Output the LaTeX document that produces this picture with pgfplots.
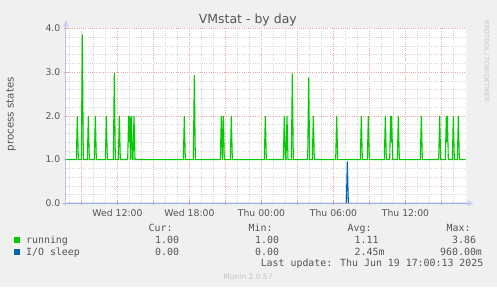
\documentclass[border=0pt]{standalone}
\usepackage{pgfplots}
\pgfplotsset{compat=1.18}
\usepackage{fontspec}
\setmainfont{DejaVu Sans}
\newfontfamily\legfont{DejaVu Sans Mono}
\definecolor{bgc}{HTML}{F0F0F0}
\definecolor{txt}{HTML}{555555}
\definecolor{runc}{HTML}{00CC00}
\definecolor{ioc}{HTML}{0066B3}
\definecolor{mgrid}{RGB}{236,168,168}
\definecolor{gridc}{RGB}{214,214,214}
\definecolor{axc}{HTML}{9FAADC}
\definecolor{arrc}{HTML}{C8D0F2}
\definecolor{faint}{HTML}{C4C4C4}
\begin{document}
\begin{tikzpicture}[x=1pt,y=1pt]
\fill[bgc] (0,0) rectangle (497,287);
\fill[white] (65.5,83.7) rectangle (465.5,258.7);
\begin{axis}[
  name=ax,
  at={(65.5pt,83.7pt)}, anchor=south west,
  scale only axis, width=400pt, height=175pt,
  xmin=7.6667, xmax=41, ymin=0, ymax=4,
  axis line style={draw=none},
  xtick={9,12,15,18,21,24,27,30,33,36,39},
  xticklabels={,Wed 12:00,,Wed 18:00,,Thu 00:00,,Thu 06:00,,Thu 12:00,},
  minor xtick={8,10,11,13,14,16,17,19,20,22,23,25,26,28,29,31,32,34,35,37,38,40},
  ytick={0,1,2,3,4},
  minor ytick={0.2,0.4,0.6,0.8,1.2,1.4,1.6,1.8,2.2,2.4,2.6,2.8,3.2,3.4,3.6,3.8},
  grid=both,
  major grid style={mgrid, line width=0.5pt, dash pattern=on 1pt off 1.2pt},
  minor grid style={gridc, line width=0.5pt, dash pattern=on 1pt off 1.2pt},
  tick pos=left, tick align=center,
  major tick length=4pt, minor tick length=0pt,
  major tick style={mgrid, line width=0.6pt},
  /pgf/number format/assume math mode=true,
  yticklabel={\pgfmathprintnumber[fixed,fixed zerofill,precision=1]{\tick}},
  ticklabel style={font=\fontsize{9.3}{11}\selectfont, text=txt},
  xticklabel style={inner sep=0pt, anchor=base, yshift=-11pt},
  yticklabel style={inner sep=0pt, anchor=east, xshift=-3pt},
  clip=true,
]
\addplot[ioc, line width=1.1pt] coordinates {
(7.667,0)(31.07,0)(31.153,0.96)(31.236,0)(41,0)};
\addplot[runc, line width=1.1pt] coordinates {
(7.667,1)
(8.57,1)(8.653,2)(8.736,1)
(8.986,1)(9.069,3.86)(9.152,1)
(9.486,1)(9.569,2)(9.652,1)
(10.07,1)(10.153,2)(10.236,1)
(10.986,1)(11.069,2)(11.152,1)
(11.653,1)(11.736,2.98)(11.819,1)
(12.07,1)(12.153,2)(12.236,1)
(12.848,1)(12.931,2)(12.972,1.4)(13.014,2)(13.083,1)(13.153,2)(13.236,1)
(13.292,1)(13.375,2)(13.458,1)
(17.486,1)(17.569,2)(17.652,1)
(18.32,1)(18.403,2.93)(18.486,1)
(20.57,1)(20.653,2)(20.736,1)(20.819,2)(20.902,1)
(21.403,1)(21.486,2)(21.569,1)
(24.236,1)(24.319,2)(24.402,1)
(25.82,1)(25.903,2)(25.986,1)
(26.042,1)(26.125,2)(26.208,1)
(26.486,1)(26.569,2.97)(26.652,1)
(27.848,1)(27.931,2.88)(28.014,1)
(28.236,1)(28.319,2)(28.402,1)
(30.181,1)(30.264,2)(30.347,1)
(32.236,1)(32.319,2)(32.402,1)
(32.82,1)(32.903,2)(32.986,1)
(34.236,1)(34.319,2)(34.402,1)
(34.681,1)(34.764,2)(34.805,1.4)(34.847,2)(34.93,1)
(35.32,1)(35.403,2)(35.486,1)
(37.236,1)(37.319,2)(37.402,1)
(38.764,1)(38.847,2)(38.93,1)
(39.32,1)(39.403,2)(39.444,1.4)(39.486,2)(39.569,1)
(39.903,1)(39.986,2)(40.069,1)
(40.32,1)(40.403,2)(40.486,1)
(41,1)};
\end{axis}
% axis lines and arrows
\draw[axc, line width=1.2pt] (63,83.7) -- (468,83.7);
\draw[axc!70, line width=0.9pt] (65.8,81) -- (65.8,262);
\fill[arrc] (467.5,86.7) -- (473.5,83.7) -- (467.5,80.7) -- cycle;
\fill[arrc] (62.8,260.5) -- (65.8,266.5) -- (68.8,260.5) -- cycle;
% titles
\node[anchor=base, text=txt, font=\fontsize{12.5}{14}\selectfont, inner sep=0pt] at (247.8,263) {VMstat - by day};
\node[rotate=90, text=txt, font=\fontsize{10.3}{12}\selectfont, inner sep=0pt] at (11,172.7) {process states};
\node[rotate=-90, text=faint, font=\fontsize{6.3}{8}\selectfont, inner sep=0pt] at (486.7,225.5) {RRDTOOL / TOBI OETIKER};
% legend
\begin{scope}[every node/.style={inner sep=0pt, text=txt, font=\legfont\fontsize{9.9}{12}\selectfont}]
\node[anchor=base west] at (148.5,56) {Cur:};
\node[anchor=base west] at (248.5,56) {Min:};
\node[anchor=base west] at (347.5,56) {Avg:};
\node[anchor=base west] at (446.5,56) {Max:};
\fill[runc] (14,44) rectangle (20,50);
\node[anchor=base west] at (26,43.7) {running};
\node[anchor=base west] at (155,43.7) {1.00};
\node[anchor=base west] at (255,43.7) {1.00};
\node[anchor=base west] at (354.5,43.7) {1.11};
\node[anchor=base west] at (452,43.7) {3.86};
\fill[ioc] (14,32) rectangle (20,38);
\node[anchor=base west] at (26,31.7) {I/O sleep};
\node[anchor=base west] at (155,31.7) {0.00};
\node[anchor=base west] at (255,31.7) {0.00};
\node[anchor=base west] at (354.5,31.7) {2.45m};
\node[anchor=base west] at (440,31.7) {960.00m};
\node[anchor=base east] at (483.5,20.3) {Last update: Thu Jun 19 17:00:13 2025};
\end{scope}
\node[anchor=base, text=faint, font=\fontsize{7.5}{9}\selectfont, inner sep=0pt] at (248,8) {Munin 2.0.57};
\pgfresetboundingbox
\useasboundingbox (0,0) rectangle (497,287);
\end{tikzpicture}
\end{document}
